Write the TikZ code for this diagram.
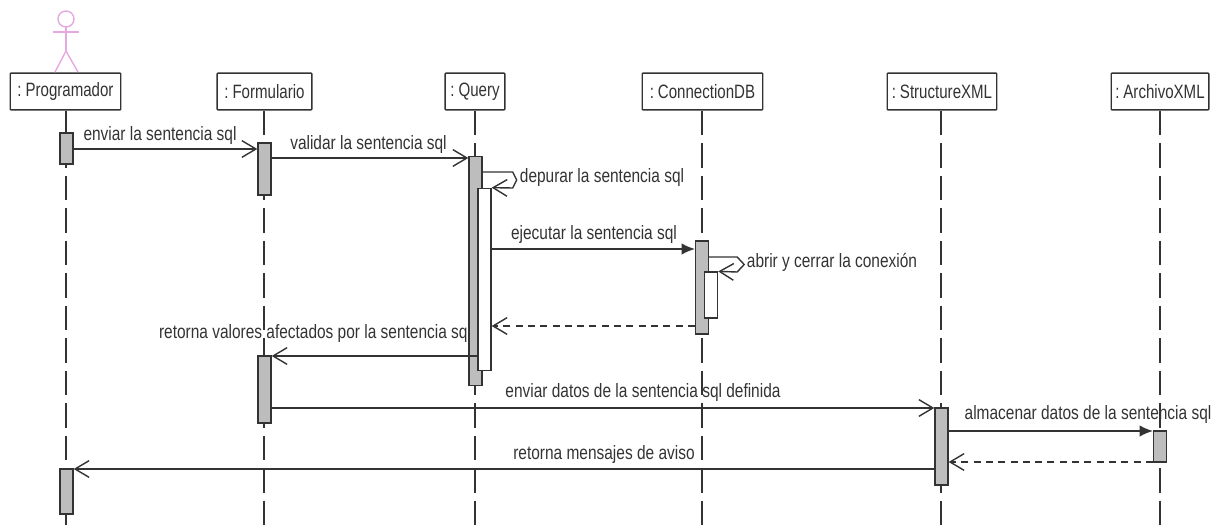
\documentclass[tikz,border=0pt]{standalone}
\usepackage{fontspec}
\setmainfont[FakeStretch=0.8]{Liberation Sans}
\newfontfamily\objfont[FakeStretch=0.78,WordSpace=0.6]{Liberation Sans}
\usetikzlibrary{arrows.meta}

\definecolor{actorpink}{HTML}{E6A8E0}
\definecolor{linegray}{HTML}{333333}
\definecolor{activgray}{HTML}{BDBDBD}

\tikzset{
  objbox/.style={draw=linegray,fill=white,rounded corners=0.5pt,minimum height=37*0.5669pt,inner sep=0pt,text=linegray,font=\objfont\fontsize{11}{13}\selectfont},
  activ/.style={draw=linegray,fill=activgray,minimum width=13*0.5669pt,inner sep=0pt},
  activw/.style={activ,fill=white},
  lifeline/.style={draw=linegray,dash pattern=on 14pt off 4.5pt},
  msg/.style={draw=linegray,-{Straight Barb[length=8pt,width=9.5pt]}},
  msgfull/.style={draw=linegray,-{Latex[length=7.5pt,width=6.5pt]}},
  msgback/.style={msg,dash pattern=on 4pt off 3pt},
  msgtxt/.style={inner sep=0pt,text=linegray,font=\fontsize{11}{13}\selectfont},
  every path/.style={line width=0.8pt}
}

\begin{document}
\begin{tikzpicture}[x=0.02cm,y=-0.02cm]
            \useasboundingbox (0,0) rectangle (1231,530);

            % Objekte
            \node[objbox,minimum width=111*0.5669pt] (programador) at (65.5,91.5) {: Programador};
            \node[objbox,minimum width=95*0.5669pt] (formulario) at (264.5,91.5) {: Formulario};
            \node[objbox,minimum width=60*0.5669pt] (query) at (475,91.5) {: Query};
            \node[objbox,minimum width=121*0.5669pt] (connectiondb) at (702.5,91.5) {: ConnectionDB};
            \node[objbox,minimum width=110*0.5669pt] (structurexml) at (942,91.5) {: StructureXML};
            \node[objbox,minimum width=98*0.5669pt] (archivoxml) at (1160,91.5) {: ArchivoXML};

            % Lebenslinien
            \foreach \obj/\xpos in {programador/66,formulario/264,query/475,connectiondb/702,structurexml/941,archivoxml/1160}{
              \coordinate (\obj end) at (\xpos,530);
              \draw[lifeline] (\obj end |- \obj.south) -- (\obj end);
            }

            % Akteur
            \coordinate (actorhead) at (66,19);
            \coordinate (actorhip) at (66,51);
            \draw[actorpink] (actorhead) circle (8);
            \draw[actorpink] (66,27) -- (actorhip);
            \draw[actorpink] (53,32) -- (79,32);
            \draw[actorpink] (55,72) -- (actorhip) -- (78,72);

            % Aktivierungen
            \node[activ,minimum height=31*0.5669pt] (progA) at (66.5,148.5) {};
            \node[activ,minimum height=45*0.5669pt] (progB) at (66.5,491.5) {};
            \node[activ,minimum height=52*0.5669pt] (formA) at (264.5,169) {};
            \node[activ,minimum height=67*0.5669pt] (formB) at (264.5,389.5) {};
            \node[activ,minimum height=230*0.5669pt] (queryA) at (475.5,271) {};
            \node[activw,minimum height=183*0.5669pt] (queryB) at (484.5,279.5) {};
            \node[activ,minimum height=93*0.5669pt] (connA) at (702,287.5) {};
            \node[activw,minimum height=46*0.5669pt] (connB) at (711,295) {};
            \node[activ,minimum height=77*0.5669pt] (structA) at (941.5,446.5) {};
            \node[activ,minimum height=31*0.5669pt] (archA) at (1160,446.5) {};

            % Nachrichten
            \coordinate (yenviar) at (0,149);
            \coordinate (yvalidar) at (0,158);
            \coordinate (ydepurar) at (0,172);
            \coordinate (yejecutar) at (0,249);
            \coordinate (yabrir) at (0,257);
            \coordinate (yvuelta) at (0,326);
            \coordinate (yvalores) at (0,356);
            \coordinate (ydatos) at (0,408);
            \coordinate (yalmacenar) at (0,431);
            \coordinate (yaviso) at (0,462);
            \coordinate (ymensajes) at (0,469);

            \draw[msg] (progA.east |- yenviar) -- (formA.west |- yenviar);
            \draw[msg] (formA.east |- yvalidar) -- (queryA.west |- yvalidar);
            \draw[msg] (queryA.east |- ydepurar) -- ++(30,0) -- ++(4,8) -- ++(-4,8) -- (queryB.north east);
            \draw[msgfull] (queryB.east |- yejecutar) -- (connA.west |- yejecutar);
            \draw[msg] (connA.east |- yabrir) -- ++(28,0) -- ++(7,7.5) -- ++(-7,7.5) -- (connB.north east);
            \draw[msgback] (connA.west |- yvuelta) -- (queryB.east |- yvuelta);
            \draw[msg] (queryB.west |- yvalores) -- (formB.east |- yvalores);
            \draw[msg] (formB.east |- ydatos) -- (structA.west |- ydatos);
            \draw[msgfull] (structA.east |- yalmacenar) -- (archA.west |- yalmacenar);
            \draw[msgback] (archA.west |- yaviso) -- (structA.east |- yaviso);
            \draw[msg] (structA.west |- ymensajes) -- (progB.east |- ymensajes);

            % Beschriftungen
            \node[msgtxt] (lblenviar) at (160,136) {enviar la sentencia sql};
            \node[msgtxt] (lblvalidar) at (368.5,145) {validar la sentencia sql};
            \node[msgtxt] (lbldepurar) at (602,178) {depurar la sentencia sql};
            \node[msgtxt] (lblejecutar) at (594,235) {ejecutar la sentencia sql};
            \node[msgtxt] (lblabrir) at (832,262) {abrir y cerrar la conexi\'on};
            \node[msgtxt] (lblvalores) at (315,334) {retorna valores afectados por la sentencia sql};
            \node[msgtxt] (lbldatos) at (643,393) {enviar datos de la sentencia sql definida};
            \node[msgtxt] (lblalmacenar) at (1088,415) {almacenar datos de la sentencia sql};
            \node[msgtxt] (lblaviso) at (604,455) {retorna mensajes de aviso};
\end{tikzpicture}
\end{document}
